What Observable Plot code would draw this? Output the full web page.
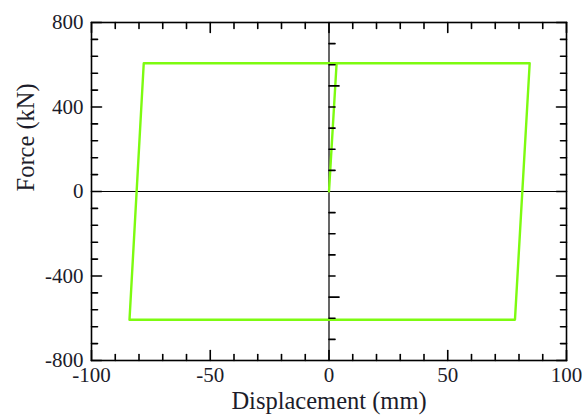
<!DOCTYPE html>
<html><head><meta charset="utf-8">
<script src="https://cdn.jsdelivr.net/npm/d3@7"></script>
<script src="https://cdn.jsdelivr.net/npm/@observablehq/plot@0.6"></script>
<style>body{margin:0;background:#fff}</style>
</head><body><div id="chart"></div>
<script>
// Hysteresis loop (displacement in mm, force in kN)
const displacement = [0, 3.2, 84.5, 78.3, -84, -78, 3.2];
const force = [0, 607, 607, -607, -607, 607, 607];

// Axis ticks
const xDomain = [-100, 100];
const yDomain = [-800, 800];
const xMajor = [-100, -50, 0, 50, 100];
const xMinor = [-90, -80, -70, -60, -40, -30, -20, -10, 10, 20, 30, 40, 60, 70, 80, 90];
const yMajor = [-800, -400, 0, 400, 800];
const yMinor = [-720, -640, -560, -480, -320, -240, -160, -80, 80, 160, 240, 320, 480, 560, 640, 720];
// ticks on the central (x = 0) line
const cMajor = [-500, 500];
const cMinor = [-700, -600, -400, -300, -200, -100, 100, 200, 300, 400, 600, 700];

const xTitle = "Displacement (mm)";
const yTitle = "Force (kN)";

const loop = displacement.map((d, i) => ({x: d, y: force[i]}));

function tickSet(xs, ys, cx) {
  return [
    ...xs.map(v => ({x: v, y: yDomain[0], r: 0})),
    ...xs.map(v => ({x: v, y: yDomain[1], r: 180})),
    ...ys.map(v => ({x: xDomain[0], y: v, r: 90})),
    ...ys.map(v => ({x: xDomain[1], y: v, r: -90})),
    ...cx.map(v => ({x: 0, y: v, r: 90}))
  ];
}
const majorTicks = tickSet(xMajor, yMajor, cMajor);
const minorTicks = tickSet(xMinor, yMinor, cMinor);

const tickLine = {draw(context, l) { context.moveTo(0, 0); context.lineTo(0, -l); }};

const chart = Plot.plot({
  width: 582,
  height: 415,
  marginLeft: 91,
  marginRight: 16,
  marginTop: 22,
  marginBottom: 55,
  style: {fontFamily: "'Liberation Serif', 'Times New Roman', serif", color: "#1c1c2a", background: "#fff"},
  x: {domain: xDomain},
  y: {domain: yDomain},
  marks: [
    Plot.ruleX([0], {stroke: "black", strokeWidth: 1.2}),
    Plot.ruleY([0], {stroke: "black", strokeWidth: 1.2}),
    Plot.frame({stroke: "black", strokeWidth: 1.6}),
    Plot.line(loop, {x: "x", y: "y", stroke: "#7dfb10", strokeWidth: 2.4}),
    Plot.axisX(xMajor, {tickSize: 0, tickPadding: 7, fontSize: 21, label: null, tickFormat: d => String(d)}),
    Plot.axisY(yMajor, {tickSize: 0, tickPadding: 8, fontSize: 21, label: null, tickFormat: d => String(d)}),
    Plot.text([xTitle], {text: d => d, frameAnchor: "bottom", dy: 41, fontSize: 24.5, lineAnchor: "middle"}),
    Plot.text([yTitle], {text: d => d, frameAnchor: "left", dx: -65, rotate: -90, fontSize: 24.5, lineAnchor: "middle"}),
    Plot.vector(majorTicks, {x: "x", y: "y", rotate: "r", anchor: "start", shape: tickLine, length: 10, stroke: "black", strokeWidth: 1.6}),
    Plot.vector(minorTicks, {x: "x", y: "y", rotate: "r", anchor: "start", shape: tickLine, length: 6, stroke: "black", strokeWidth: 1.6})
  ]
});
document.getElementById("chart").appendChild(chart);
</script>
</body></html>
